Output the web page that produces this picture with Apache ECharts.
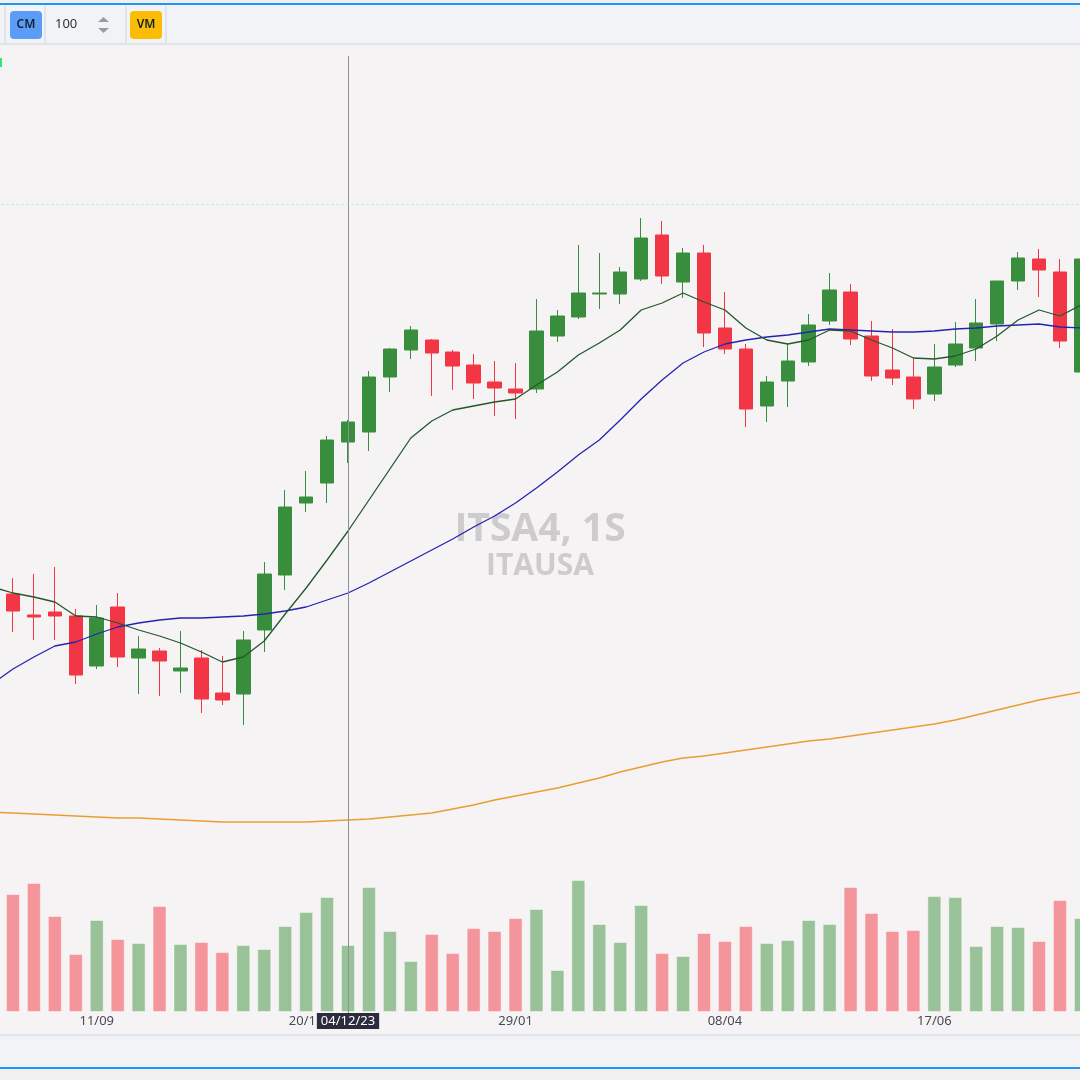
<!DOCTYPE html>
<html><head><meta charset="utf-8">
<script src="https://cdn.jsdelivr.net/npm/echarts@6/dist/echarts.min.js"></script>
<style>html,body{margin:0;padding:0;background:#f5f3f4}#c{width:1080px;height:1080px}</style>
</head><body><div id="c"></div><script>
// Weekly candles, ITSA4 (first entry only carries moving-average values)
const dates = ['07/08/23','14/08/23','21/08/23','28/08/23','04/09/23','11/09/23','18/09/23','25/09/23','02/10/23','09/10/23','16/10/23','23/10/23','30/10/23','06/11/23','13/11/23','20/11/23','27/11/23','04/12/23','11/12/23','18/12/23','25/12/23','01/01/24','08/01/24','15/01/24','22/01/24','29/01/24','05/02/24','12/02/24','19/02/24','26/02/24','04/03/24','11/03/24','18/03/24','25/03/24','01/04/24','08/04/24','15/04/24','22/04/24','29/04/24','06/05/24','13/05/24','20/05/24','27/05/24','03/06/24','10/06/24','17/06/24','24/06/24','01/07/24','08/07/24','15/07/24','22/07/24','29/07/24','05/08/24'];
const opens  = [null,8.06,7.85,7.88,7.84,7.34,7.93,7.42,7.49,7.29,7.42,7.07,7.06,7.70,8.25,8.97,9.17,9.58,9.68,10.23,10.50,10.60,10.48,10.35,10.18,10.11,10.11,10.64,10.83,11.06,11.06,11.21,11.65,11.18,11.47,10.72,10.51,9.94,10.19,10.38,10.79,11.08,10.64,10.30,10.23,10.06,10.35,10.52,10.76,11.19,11.41,11.28,10.28];
const closes = [null,7.89,7.83,7.84,7.25,7.82,7.43,7.51,7.39,7.32,7.01,7.00,7.60,8.26,8.93,9.03,9.60,9.78,10.23,10.51,10.70,10.47,10.34,10.17,10.12,10.07,10.69,10.84,11.07,11.07,11.28,11.62,11.24,11.47,10.67,10.51,9.91,10.18,10.39,10.75,11.10,10.61,10.24,10.22,10.01,10.33,10.56,10.77,11.19,11.42,11.30,10.59,11.41];
const lows   = [null,7.68,7.60,7.60,7.16,7.31,7.33,7.06,7.04,7.07,6.87,6.95,6.75,7.48,8.10,8.88,8.97,9.37,9.49,10.08,10.41,10.04,10.10,10.01,9.84,9.81,10.07,10.58,10.81,10.91,10.96,11.19,11.16,11.02,10.53,10.46,9.73,9.78,9.93,10.34,10.75,10.55,10.19,10.15,9.91,9.99,10.33,10.39,10.59,11.10,11.03,10.52,10.24];
const highs  = [null,8.22,8.26,8.33,7.91,7.95,8.07,7.64,7.52,7.69,7.50,7.44,7.69,8.38,9.10,9.29,9.64,9.80,10.29,10.52,10.74,10.61,10.50,10.46,10.39,10.37,11.01,10.90,11.55,11.47,11.33,11.82,11.79,11.52,11.55,11.08,10.56,10.24,10.56,10.86,11.27,11.16,10.79,10.71,10.42,10.56,10.78,11.01,11.19,11.48,11.51,11.41,11.45];
const volumes = [null,118,129,96,58,92,73,69,106,68,70,60,67,63,86,100,115,67,125,81,51,78,59,84,81,94,103,42,132,88,70,107,59,56,79,71,86,69,72,92,88,125,99,81,82,116,115,66,86,85,71,112,94];
const maShort = [8.13,8.07,8.03,7.98,7.84,7.83,7.77,7.70,7.64,7.57,7.48,7.38,7.43,7.59,7.86,8.12,8.40,8.69,9.00,9.31,9.62,9.79,9.90,9.94,9.98,10.01,10.15,10.28,10.45,10.57,10.70,10.90,10.97,11.07,10.98,10.90,10.72,10.60,10.56,10.60,10.70,10.69,10.60,10.52,10.42,10.41,10.44,10.51,10.64,10.80,10.90,10.84,10.95];
const maMid = [7.16,7.31,7.43,7.54,7.58,7.66,7.73,7.77,7.80,7.82,7.82,7.83,7.84,7.86,7.89,7.93,8.00,8.07,8.17,8.28,8.39,8.50,8.61,8.73,8.84,8.97,9.12,9.28,9.45,9.60,9.80,10.01,10.20,10.37,10.48,10.56,10.60,10.63,10.65,10.68,10.71,10.70,10.69,10.68,10.68,10.69,10.71,10.72,10.74,10.75,10.76,10.73,10.72];
const maLong = [5.88,5.87,5.86,5.85,5.84,5.83,5.82,5.82,5.81,5.80,5.79,5.78,5.78,5.78,5.78,5.78,5.79,5.80,5.81,5.83,5.85,5.87,5.91,5.95,6.00,6.04,6.08,6.12,6.17,6.22,6.28,6.33,6.38,6.42,6.44,6.47,6.50,6.53,6.56,6.59,6.61,6.64,6.67,6.70,6.73,6.76,6.80,6.85,6.90,6.95,7.00,7.04,7.08];
const tickLabels = ['11/09','20/11','29/01','08/04','17/06'];
const crossDate = '04/12/23';
const levelPrice = 11.96;
const symbolText = 'ITSA4, 1S';
const nameText = 'ITAUSA';

const BAND = 20.94;
const gridLeft = 2.5 - BAND;
const gridWidth = BAND * dates.length;
const UP = '#388e3c', DOWN = '#f23645';

const candleData = opens.map((o, i) => o == null ? ['-','-','-','-'] : [o, closes[i], lows[i], highs[i]]);
const volData = volumes.map((v, i) => v == null ? '-' : {
  value: v,
  itemStyle: { color: closes[i] >= opens[i] ? '#99c299' : '#f4959b' }
});

const chart = echarts.init(document.getElementById('c'), null, {renderer: 'canvas'});
const FONT = 'Noto Sans';
chart.setOption({
  animation: false,
  backgroundColor: '#f5f3f4',
  grid: [
    { left: gridLeft, width: gridWidth, top: 56, height: 957, outerBoundsMode: 'none', containLabel: false },
    { left: gridLeft, width: gridWidth, top: 812, height: 200, outerBoundsMode: 'none', containLabel: false }
  ],
  xAxis: [
    { type: 'category', gridIndex: 0, data: dates, boundaryGap: true, show: false },
    { type: 'category', gridIndex: 1, data: dates, boundaryGap: true,
      axisLine: { show: false }, axisTick: { show: false }, splitLine: { show: false },
      axisLabel: {
        color: '#4a4a55', fontSize: 13, fontFamily: FONT, margin: 3,
        interval: (idx, val) => tickLabels.includes(String(val).slice(0, 5)),
        formatter: v => v.slice(0, 5)
      } }
  ],
  yAxis: [
    { type: 'value', gridIndex: 0, min: 3.87, max: 13.44, show: false, splitLine: { show: false } },
    { type: 'value', gridIndex: 1, min: 0, max: 200, show: false, splitLine: { show: false } }
  ],
  graphic: [
    { type: 'text', left: 'center', top: 510, z: 0, silent: true,
      style: { text: symbolText, fill: '#cecbcf', font: 'bold 39px "Open Sans"', textAlign: 'center' } },
    { type: 'text', left: 'center', top: 551, z: 0, silent: true,
      style: { text: nameText, fill: '#cecbcf', font: 'bold 30px "Open Sans"', textAlign: 'center' } },
    // toolbar
    { type: 'rect', shape: { x: 0, y: 0, width: 1080, height: 45 }, style: { fill: '#f1f3f6' }, z: 10 },
    { type: 'rect', shape: { x: 0, y: 0, width: 1080, height: 3 }, style: { fill: '#eef0f2' }, z: 10 },
    { type: 'rect', shape: { x: 0, y: 3, width: 1080, height: 2 }, style: { fill: '#2196f3' }, z: 11 },
    { type: 'rect', shape: { x: 0, y: 43, width: 1080, height: 2 }, style: { fill: '#e1e4e8' }, z: 11 },
    { type: 'rect', shape: { x: 4, y: 6, width: 2, height: 37 }, style: { fill: '#e1e4e8' }, z: 11 },
    { type: 'rect', shape: { x: 44, y: 6, width: 2, height: 37 }, style: { fill: '#e1e4e8' }, z: 11 },
    { type: 'rect', shape: { x: 125, y: 6, width: 2, height: 37 }, style: { fill: '#e1e4e8' }, z: 11 },
    { type: 'rect', shape: { x: 165, y: 6, width: 2, height: 37 }, style: { fill: '#e1e4e8' }, z: 11 },
    { type: 'rect', shape: { x: 10, y: 11, width: 32, height: 28, r: 4 }, style: { fill: '#5b9cf6' }, z: 12 },
    { type: 'text', x: 26, y: 25, z: 13, style: { text: 'CM', fill: '#15202e', font: '600 12px "Noto Sans"', textAlign: 'center', textVerticalAlign: 'middle' } },
    { type: 'text', x: 55, y: 24, z: 13, style: { text: '100', fill: '#333338', font: '13px "Noto Sans"', textVerticalAlign: 'middle' } },
    { type: 'polygon', shape: { points: [[98, 22], [103.5, 17], [109, 22]] }, style: { fill: '#9a9ca3' }, z: 13 },
    { type: 'polygon', shape: { points: [[98, 28], [103.5, 33], [109, 28]] }, style: { fill: '#9a9ca3' }, z: 13 },
    { type: 'rect', shape: { x: 130, y: 11, width: 32, height: 28, r: 4 }, style: { fill: '#fbbc05' }, z: 12 },
    { type: 'text', x: 146, y: 25, z: 13, style: { text: 'VM', fill: '#15202e', font: '600 12px "Noto Sans"', textAlign: 'center', textVerticalAlign: 'middle' } },
    { type: 'rect', shape: { x: 0, y: 58, width: 2, height: 9 }, style: { fill: '#2ee87a' }, z: 12 },
    // bottom strip
    { type: 'rect', shape: { x: 0, y: 1035, width: 1080, height: 45 }, style: { fill: '#f1f3f6' }, z: 10 },
    { type: 'rect', shape: { x: 0, y: 1034, width: 1080, height: 2 }, style: { fill: '#e3e5e9' }, z: 11 },
    { type: 'rect', shape: { x: 0, y: 1067, width: 1080, height: 2 }, style: { fill: '#2196f3' }, z: 11 },
    { type: 'rect', shape: { x: 0, y: 1069, width: 1080, height: 11 }, style: { fill: '#f0f0f0' }, z: 11 }
  ],
  series: [
    { type: 'candlestick', xAxisIndex: 0, yAxisIndex: 0, data: candleData, barWidth: 14,
      itemStyle: { color: UP, color0: DOWN, borderColor: UP, borderColor0: DOWN, borderWidth: 1 },
      markLine: {
        symbol: 'none', silent: true, animation: false,
        data: [
          { xAxis: crossDate, lineStyle: { color: '#8e9099', width: 1, type: 'solid' },
            label: { show: true, position: 'start', formatter: crossDate, color: '#ffffff',
              backgroundColor: '#2b2c3e', padding: [2, 4, 1, 4], fontSize: 13, fontFamily: FONT, distance: 0 } },
          { yAxis: levelPrice, lineStyle: { color: '#a9e8d9', width: 1, type: [2, 3] }, label: { show: false } }
        ]
      } },
    { type: 'line', xAxisIndex: 0, yAxisIndex: 0, data: maLong, symbol: 'none', smooth: false,
      lineStyle: { color: '#eb9d33', width: 1.5 } },
    { type: 'line', xAxisIndex: 0, yAxisIndex: 0, data: maMid, symbol: 'none',
      lineStyle: { color: '#2424b0', width: 1.3 } },
    { type: 'line', xAxisIndex: 0, yAxisIndex: 0, data: maShort, symbol: 'none',
      lineStyle: { color: '#24582c', width: 1.3 } },
    { type: 'bar', xAxisIndex: 1, yAxisIndex: 1, data: volData, barWidth: 14,
      itemStyle: { borderColor: 'rgba(255,255,255,0.45)', borderWidth: 1 } }
  ]
});
</script></body></html>
